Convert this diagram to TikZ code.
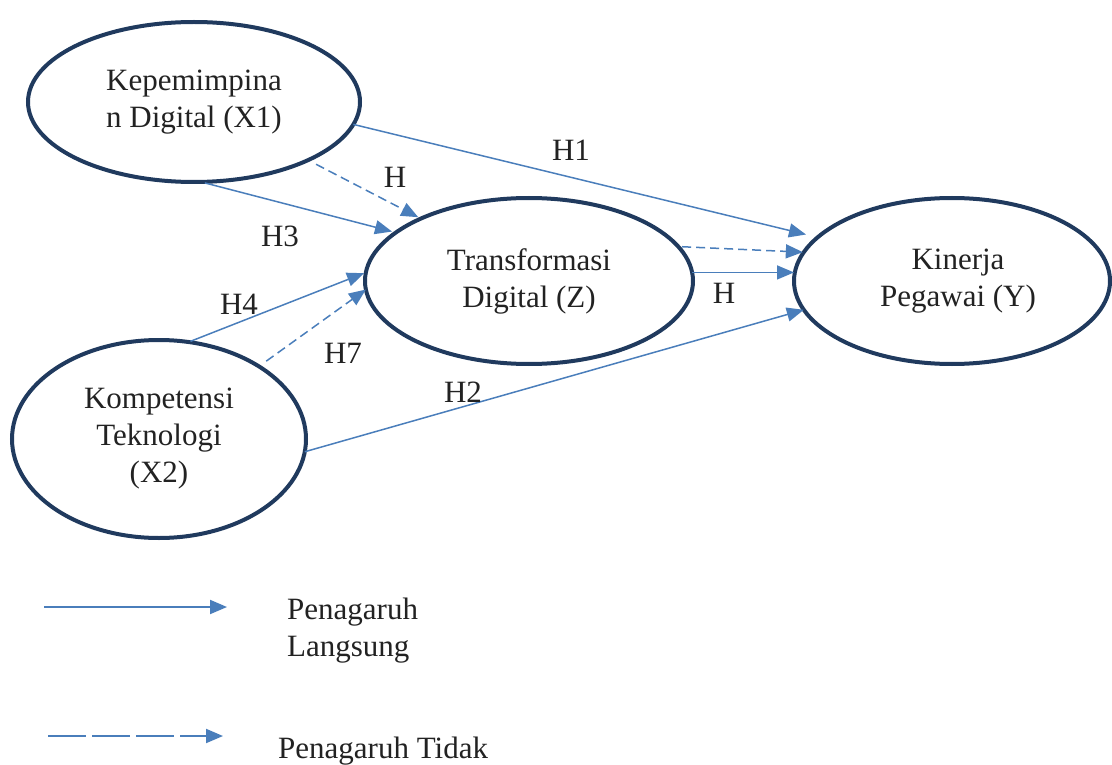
\documentclass[tikz,border=0pt]{standalone}
\usepackage{fontspec}
\setmainfont{Liberation Serif}
\usetikzlibrary{arrows.meta,shapes.geometric}
\definecolor{navy}{HTML}{203A5E}
\definecolor{lblue}{HTML}{4A7EBB}
\definecolor{txt}{HTML}{222222}
\begin{document}
\begin{tikzpicture}[x=1pt,y=-1pt,
  var/.style={ellipse,draw=navy,line width=4pt,inner sep=0pt,outer sep=0pt,
    align=center,text=txt,font=\fontsize{31}{37}\selectfont},
  lab/.style={anchor=base,text=txt,font=\fontsize{31}{37}\selectfont,inner sep=0pt},
  conn/.style={draw=lblue,line width=1.5pt,-{Triangle[length=17pt,width=14pt]}},
  dconn/.style={conn,dash pattern=on 9pt off 5pt}]
\useasboundingbox (0,0) rectangle (1112,765);
% variables
\node[var,minimum width=332pt,minimum height=160pt] (x1) at (194,102) {Kepemimpina\\n Digital (X1)};
\node[var,minimum width=328pt,minimum height=166pt] (z) at (529,281) {Transformasi\\Digital (Z)};
\node[var,minimum width=316pt,minimum height=166pt] (y) at (952,281) {\hspace*{12pt}Kinerja\\\hspace*{12pt}Pegawai (Y)};
\node[var,minimum width=294pt,minimum height=198pt] (x2) at (159,439) {Kompetensi\\Teknologi\\(X2)};
% connectors
\draw[conn,shorten >=12pt] (x1.-8.3) -- (y.162.6);
\draw[dconn,shorten <=9pt,shorten >=3pt] (x1.-27.3) -- (z.150.6);
\draw[conn,shorten <=4pt,shorten >=4pt] (x1.-85.3) -- (z.160.6);
\draw[conn,shorten <=2pt,shorten >=2pt] (x2.73.8) -- (z.177.9);
\draw[dconn,shorten <=9pt] (x2.36.7) -- (z.183.2);
\draw[dconn,shorten <=4pt,shorten >=1pt] (z.13.2) -- (y.169.4);
\draw[conn] (z.3.5) -- (y.west |- z.3.5);
\draw[conn] (x2.-5.6) -- (y.191.2);
% labels
\node[lab] (h1) at (571,161) {H1};
\node[lab] (ha) at (395,188) {H};
\node[lab] (h3) at (280,247) {H3};
\node[lab] (h4) at (239,314) {H4};
\node[lab] (h7) at (343,363) {H7};
\node[lab] (hb) at (724,303) {H};
\node[lab] (h2) at (463,402) {H2};
% legend
\coordinate (l1a) at (44,607);
\coordinate (l1b) at (227,607);
\draw[conn,line width=2pt] (l1a) -- (l1b);
\node[lab,anchor=north west,align=left] (leg1) at (287,598) {Penagaruh\\Langsung};
\coordinate (l2a) at (48,736);
\coordinate (l2b) at (223,736);
\draw[conn,line width=2pt,dash pattern=on 38pt off 6pt] (l2a) -- (l2b);
\node[lab,anchor=base west] (leg2) at (278,758) {Penagaruh Tidak};
\end{tikzpicture}
\end{document}
